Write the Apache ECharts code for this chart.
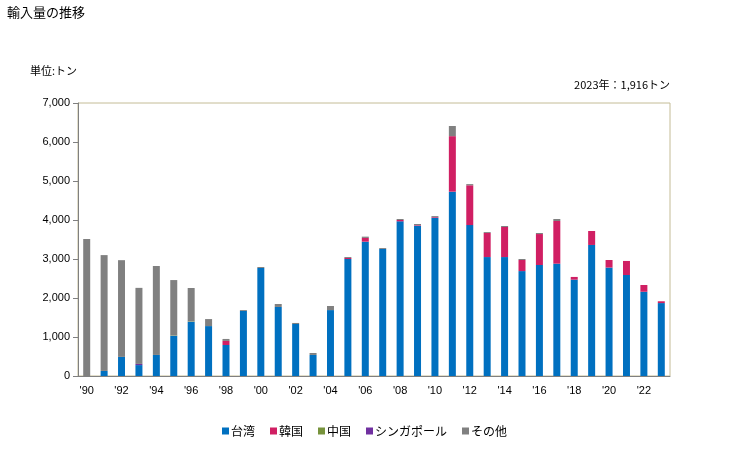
<!DOCTYPE html>
<html><head><meta charset="utf-8">
<script src="https://cdn.jsdelivr.net/npm/echarts@6/dist/echarts.min.js"></script>
<style>html,body{margin:0;padding:0;background:#fff}#c{width:729px;height:450px}</style>
</head><body><div id="c"></div>
<script>
const years = ["'90","'91","'92","'93","'94","'95","'96","'97","'98","'99","'00","'01","'02","'03","'04","'05","'06","'07","'08","'09","'10","'11","'12","'13","'14","'15","'16","'17","'18","'19","'20","'21","'22","'23"];
const taiwan    = [0,130,490,280,540,1030,1390,1280,795,1667,2770,1770,1333,540,1690,3000,3444,3256,3966,3855,4060,4726,3870,3050,3050,2690,2846,2880,2470,3360,2780,2590,2160,1870];
const korea     = [0,0,0,0,0,0,0,0,105,0,0,0,0,0,0,26,96,0,34,15,17,1424,1020,617,770,284,794,1094,70,358,194,360,173,46];
const china     = [0,0,0,0,0,10,10,0,0,0,0,0,0,0,0,0,0,0,0,0,0,0,0,0,0,0,0,0,0,0,0,0,0,0];
const singapore = [0,0,0,30,0,0,0,0,0,0,0,0,0,0,0,0,0,0,0,0,0,0,0,0,0,0,0,0,0,0,0,0,0,0];
const other     = [3510,2970,2480,1950,2280,1420,856,180,50,23,25,76,27,50,105,24,33,24,26,27,23,260,30,23,26,26,27,52,0,0,0,0,0,0];
const seriesNames = ['台湾','韓国','中国','シンガポール','その他'];
const seriesColors = ['#0070c0','#d01f63','#77933c','#7030a0','#808080'];
const seriesData = [taiwan, korea, china, singapore, other];
const yTicks = [0,1000,2000,3000,4000,5000,6000,7000];

const chart = echarts.init(document.getElementById('c'));
const font = 'Liberation Sans, Arial, sans-serif';
chart.setOption({
  animation:false,
  textStyle:{fontFamily:font},
  graphic:[
    {type:'text',left:7,top:6,style:{text:'輸入量の推移',font:'13px "Noto Sans CJK JP", sans-serif',fill:'#000'}},
    {type:'text',left:30,top:65,style:{text:'単位:トン',font:'11px "Noto Sans CJK JP", sans-serif',fill:'#000'}},
    {type:'text',right:59,top:79,style:{text:'2023年：1,916トン',font:'11px "Noto Sans CJK JP", sans-serif',fill:'#000',align:'right'}}
  ],
  legend:{
    bottom:8,left:'center',itemWidth:7,itemHeight:7,itemGap:15,
    icon:'rect',
    textStyle:{fontSize:12,color:'#000',fontFamily:'"Noto Sans CJK JP", sans-serif',padding:[0,0,0,-3]},
    data:seriesNames
  },
  grid:{left:78,right:59,top:103,bottom:74,show:true,borderColor:'#c4bc96',borderWidth:1,backgroundColor:'transparent'},
  xAxis:{
    type:'category',data:years,
    axisLine:{lineStyle:{color:'#808080'}},
    axisTick:{show:false},
    axisLabel:{interval:1,color:'#000',fontSize:11,margin:9,fontFamily:font}
  },
  yAxis:{
    type:'value',min:yTicks[0],max:yTicks[yTicks.length-1],interval:1000,
    axisLine:{show:true,lineStyle:{color:'#808080'}},
    axisTick:{show:true,length:5,lineStyle:{color:'#808080'}},
    splitLine:{show:false},
    axisLabel:{color:'#000',fontSize:11,margin:8,fontFamily:font,
      formatter:v=>v.toLocaleString('en-US')}
  },
  series:seriesNames.map((n,i)=>({
    name:n,type:'bar',stack:'s',data:seriesData[i],barWidth:7,
    itemStyle:{color:seriesColors[i]}
  }))
});
</script></body></html>
